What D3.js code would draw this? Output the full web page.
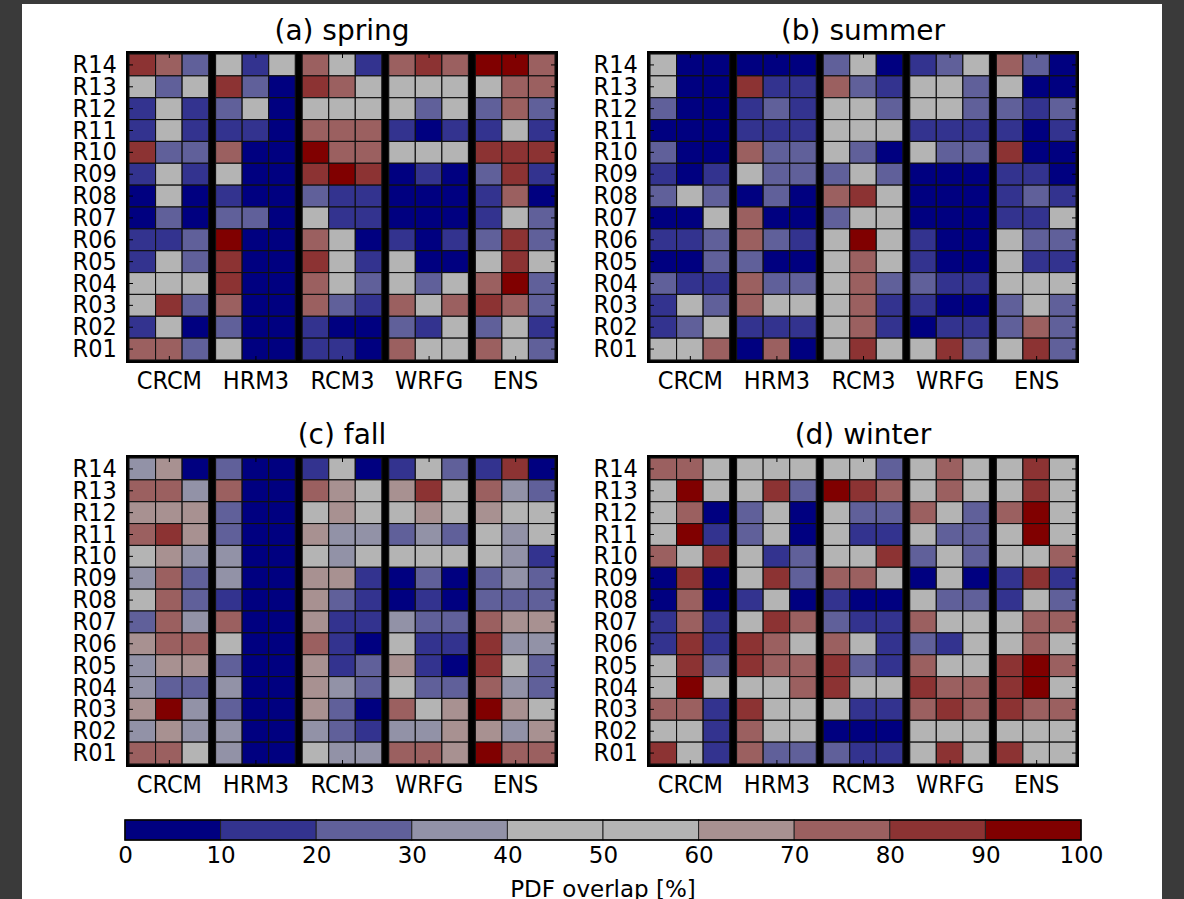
<!DOCTYPE html>
<html>
<head>
<meta charset="utf-8">
<script src="https://cdn.jsdelivr.net/npm/d3@7"></script>
<style>
body { margin: 0; background: #fff; }
text { font-family: "DejaVu Sans", sans-serif; fill: #000; }
</style>
</head>
<body>
<script>
"use strict";

// rows top to bottom
const regions = ["R14","R13","R12","R11","R10","R09","R08","R07","R06","R05","R04","R03","R02","R01"];
const models = ["CRCM","HRM3","RCM3","WRFG","ENS"];
const binEdges = [0,10,20,30,40,50,60,70,80,90,100];
const binColors = ["#000080","#33338f","#60609a","#9292a7","#b4b4b4",
                   "#b4b4b4","#a89191","#9b6060","#8c3333","#800000"];

// PDF overlap [%], 15 columns per row: CRCM x3, HRM3 x3, RCM3 x3, WRFG x3, ENS x3
const spring = [
  [85,75,25, 55,15,55, 75,55,15, 75,85,75, 95,95,75],
  [55,25,55, 85,25,5,  85,75,55, 55,55,55, 55,75,75],
  [15,55,15, 25,55,5,  55,55,55, 55,25,55, 25,75,25],
  [15,55,15, 15,15,5,  75,75,75, 15,5,15,  15,55,15],
  [85,25,25, 75,5,5,   95,75,75, 55,55,55, 85,85,85],
  [15,55,15, 55,5,5,   85,95,85, 5,15,5,   25,85,15],
  [5,55,5,   15,5,5,   25,15,15, 5,5,5,    15,75,5],
  [5,25,5,   25,25,5,  55,15,15, 5,5,5,    15,55,25],
  [15,15,25, 95,5,5,   75,55,5,  15,5,15,  25,85,25],
  [15,55,25, 85,5,5,   85,55,15, 55,5,5,   55,85,55],
  [55,55,55, 85,5,5,   75,55,25, 55,25,55, 75,95,25],
  [55,85,25, 75,5,5,   75,25,15, 75,55,75, 85,75,25],
  [15,55,5,  25,5,5,   15,5,5,   25,15,55, 25,55,15],
  [75,75,25, 55,5,5,   15,15,5,  75,55,55, 75,55,25]
];

const summer = [
  [55,5,5,   5,5,5,    25,55,5,  15,25,55, 75,25,5],
  [55,5,5,   85,15,15, 75,25,15, 55,55,25, 55,5,5],
  [25,5,5,   15,25,15, 55,55,25, 55,55,25, 25,15,25],
  [5,5,5,    15,15,15, 55,55,55, 15,15,15, 15,5,15],
  [25,5,5,   75,25,25, 55,25,5,  55,25,25, 85,5,5],
  [15,5,15,  55,25,25, 25,55,25, 5,5,5,    15,15,5],
  [25,55,25, 5,25,5,   75,85,55, 5,5,5,    15,25,15],
  [5,5,55,   75,5,5,   25,55,55, 5,5,5,    15,15,55],
  [15,15,25, 75,25,15, 55,95,55, 15,5,5,   55,25,25],
  [5,5,25,   25,5,5,   55,75,55, 15,5,5,   55,15,15],
  [25,15,15, 75,25,25, 55,75,25, 25,15,15, 55,55,55],
  [15,55,25, 75,55,55, 55,75,15, 15,5,5,   25,55,25],
  [15,25,55, 15,15,15, 55,75,15, 5,15,15,  25,75,25],
  [55,55,75, 5,75,5,   55,85,55, 55,85,25, 55,85,25]
];

const fall = [
  [35,65,5,  25,5,5,   15,55,5,  15,55,25, 15,85,5],
  [75,75,35, 75,5,5,   75,65,55, 65,85,55, 75,35,25],
  [65,65,65, 25,5,5,   55,65,55, 55,65,55, 65,55,55],
  [75,85,65, 25,5,5,   65,35,35, 25,35,25, 55,35,55],
  [55,65,35, 35,5,5,   55,35,55, 55,55,55, 55,35,15],
  [35,75,25, 35,5,5,   65,65,15, 5,25,5,   25,35,25],
  [55,75,25, 15,5,5,   65,25,15, 5,15,5,   25,25,25],
  [25,75,35, 75,5,5,   65,15,15, 35,25,25, 75,65,65],
  [65,75,75, 55,5,5,   75,15,5,  55,15,15, 85,35,35],
  [35,65,65, 25,5,5,   65,15,25, 65,15,5,  85,55,25],
  [35,25,25, 35,5,5,   65,35,25, 55,25,25, 75,35,25],
  [65,95,35, 25,5,5,   65,25,5,  75,55,65, 95,65,55],
  [35,65,35, 35,5,5,   35,25,15, 35,35,65, 65,35,65],
  [75,75,55, 35,5,5,   55,35,35, 75,75,65, 95,75,75]
];

const winter = [
  [75,75,55, 55,55,55, 55,55,25, 55,75,55, 55,85,55],
  [55,95,55, 55,85,25, 95,85,75, 55,75,55, 55,85,55],
  [55,75,5,  25,55,5,  55,25,25, 75,55,25, 75,95,55],
  [55,95,15, 25,55,5,  55,15,15, 55,25,25, 55,95,55],
  [75,55,85, 55,15,25, 55,55,85, 25,55,25, 55,55,75],
  [5,85,5,   55,85,25, 75,75,55, 5,55,5,   15,85,15],
  [5,75,5,   15,55,5,  15,5,5,   55,25,25, 15,55,25],
  [15,75,15, 55,85,75, 25,15,15, 75,55,55, 55,75,75],
  [15,85,15, 85,75,55, 75,55,15, 25,15,55, 55,75,55],
  [55,85,25, 85,75,75, 85,25,15, 75,55,55, 85,95,75],
  [55,95,55, 55,55,75, 85,55,55, 85,75,75, 85,95,55],
  [75,75,15, 85,55,55, 55,15,15, 75,85,75, 85,75,75],
  [55,55,15, 75,55,55, 5,5,5,    55,55,55, 55,55,55],
  [85,55,15, 75,25,25, 25,15,15, 55,85,55, 85,55,55]
];

const width = 1184;
const height = 899;

const svg = d3.select("body").append("svg")
    .attr("width", width)
    .attr("height", height);

svg.append("rect").attr("width", width).attr("height", height).attr("fill", "#fff");

// dark surround of the screenshot
svg.append("rect").attr("x", 0).attr("y", 0).attr("width", 22).attr("height", height).attr("fill", "#3a3a3a");
svg.append("rect").attr("x", 1162).attr("y", 0).attr("width", 22).attr("height", height).attr("fill", "#3a3a3a");
svg.append("rect").attr("x", 0).attr("y", 0).attr("width", width).attr("height", 4).attr("fill", "#3a3a3a");

const boxW = 432, boxH = 312, frame = 3;
const innerW = boxW - 2*frame, innerH = boxH - 2*frame;
const gap = 0.26;   // black gap between model groups, in cell units
const squeeze = 0.9; // labels look narrow in the original

const x = d3.scaleLinear().domain([0, 15 + 4*gap]).range([0, innerW]);
const y = d3.scaleBand().domain(regions).range([0, innerH]);
const color = d3.scaleThreshold().domain(binEdges.slice(1, -1)).range(binColors);

const colX = i => Math.floor(i/3)*(3 + gap) + i%3;
const xm = d3.scaleOrdinal()
    .domain(models)
    .range(models.map((m, k) => x(k*(3 + gap) + 1.5)));

const panels = [
  { title: "(a) spring", data: spring, left: 126, top: 51 },
  { title: "(b) summer", data: summer, left: 647, top: 51 },
  { title: "(c) fall",   data: fall,   left: 126, top: 455 },
  { title: "(d) winter", data: winter, left: 647, top: 455 }
];

panels.forEach(p => {
    let g = svg.append("g").attr("transform", `translate(${p.left},${p.top})`);

    g.append("rect")
        .attr("width", boxW).attr("height", boxH)
        .attr("fill", "#000");

    let inner = g.append("g").attr("transform", `translate(${frame},${frame})`);

    let cells = [];
    p.data.forEach((row, r) => row.forEach((v, i) => cells.push({ region: regions[r], i: i, v: v })));

    inner.selectAll("rect.cell")
        .data(cells)
        .enter()
        .append("rect")
        .attr("class", "cell")
        .attr("x", d => x(colX(d.i)))
        .attr("y", d => y(d.region))
        .attr("width", x(1) - x(0))
        .attr("height", y.bandwidth())
        .attr("fill", d => color(d.v))
        .attr("stroke", "#111")
        .attr("stroke-width", 1.1);

    // inward ticks, matplotlib style
    let left = inner.append("g").call(d3.axisLeft(y).tickSize(-4).tickPadding(13.5));
    let right = inner.append("g").attr("transform", `translate(${innerW},0)`)
        .call(d3.axisRight(y).tickSize(-4).tickFormat(""));
    let top = inner.append("g").call(d3.axisTop(xm).tickSize(-4).tickFormat(""));
    let bottom = inner.append("g").attr("transform", `translate(0,${innerH})`)
        .call(d3.axisBottom(xm).tickSize(-4).tickPadding(11));

    [left, right, top, bottom].forEach(a => {
        a.select(".domain").remove();
        a.selectAll("line").attr("stroke", "#000").attr("stroke-width", 1);
        a.attr("font-family", "DejaVu Sans").attr("font-size", 25);
        a.selectAll("text").attr("transform", `scale(${squeeze},1)`);
    });

    g.append("text")
        .attr("x", boxW/2)
        .attr("y", -11)
        .attr("text-anchor", "middle")
        .style("font-size", "28px")
        .text(p.title);
});

// colour bar
const cbX = d3.scaleLinear().domain([0, 100]).range([125, 1081]);
const cbTop = 820, cbH = 20;
let cb = svg.append("g");

cb.selectAll("rect")
    .data(binColors)
    .enter()
    .append("rect")
    .attr("x", (c, k) => cbX(binEdges[k]))
    .attr("y", cbTop)
    .attr("width", (c, k) => cbX(binEdges[k+1]) - cbX(binEdges[k]))
    .attr("height", cbH)
    .attr("fill", c => c)
    .attr("stroke", "#222")
    .attr("stroke-width", 1);

cb.append("rect")
    .attr("x", cbX(0)).attr("y", cbTop)
    .attr("width", cbX(100) - cbX(0)).attr("height", cbH)
    .attr("fill", "none").attr("stroke", "#000").attr("stroke-width", 1.5);

let cbAxis = cb.append("g")
    .attr("transform", `translate(0,${cbTop + cbH})`)
    .call(d3.axisBottom(cbX).tickValues(binEdges).tickSize(0).tickPadding(7));
cbAxis.select(".domain").remove();
cbAxis.attr("font-family", "DejaVu Sans").attr("font-size", 23);

svg.append("text")
    .attr("x", cbX(50))
    .attr("y", 897)
    .attr("text-anchor", "middle")
    .style("font-size", "23px")
    .text("PDF overlap [%]");
</script>
</body>
</html>
